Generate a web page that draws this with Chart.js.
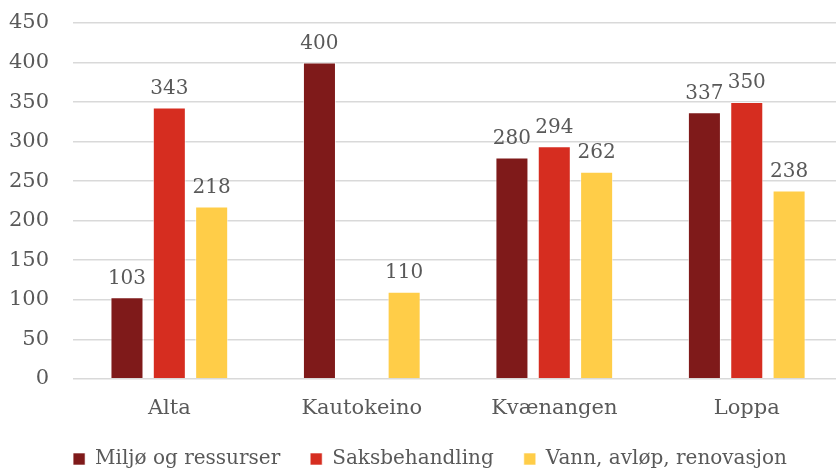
<!DOCTYPE html>
<html>
<head>
<meta charset="utf-8">
<script src="https://cdn.jsdelivr.net/npm/chart.js@4.4.1/dist/chart.umd.min.js"></script>
<style>
  html, body { margin: 0; padding: 0; background: #fff; overflow: hidden; }
  /* the plot runs a few px past the right edge in the original */
  #wrap { width: 843px; height: 470px; position: relative; }
</style>
</head>
<body>
<div id="wrap"><canvas id="chart"></canvas></div>
<script>
const categories = ["Alta", "Kautokeino", "Kvænangen", "Loppa"];
const seriesNames = ["Miljø og ressurser", "Saksbehandling", "Vann, avløp, renovasjon"];
const miljo = [103, 400, 280, 337];
const saksbehandling = [343, null, 294, 350];
const vann = [218, 110, 262, 238];
const seriesColors = ["#7f1a1a", "#d62d20", "#ffcd48"];

const FONT = "'DejaVu Serif', Georgia, serif";
const TEXT = "#595959";

Chart.defaults.font.family = FONT;
Chart.defaults.color = TEXT;

// draws value above each bar
const barLabels = {
    id: "barLabels",
    afterDatasetsDraw(chart) {
        const ctx = chart.ctx;
        ctx.save();
        ctx.font = "20px " + FONT;
        ctx.fillStyle = TEXT;
        ctx.textAlign = "center";
        ctx.textBaseline = "bottom";
        chart.data.datasets.forEach((ds, i) => {
            chart.getDatasetMeta(i).data.forEach((bar, j) => {
                const v = ds.data[j];
                if (v === null || v === undefined) return;
                ctx.fillText(v, bar.x, bar.y - 9);
            });
        });
        ctx.restore();
    }
};

// put the legend row where the original has it
const legendPlace = {
    id: "legendPlace",
    afterLayout(chart) {
        const lg = chart.legend;
        const h = lg.bottom - lg.top;
        lg.top = 419;
        lg.bottom = lg.top + h;
        const dx = 430 - (lg.left + lg.right) / 2;
        lg.left += dx;
        lg.right += dx;
    }
};

new Chart(document.getElementById("chart"), {
    type: "bar",
    data: {
        labels: categories,
        datasets: [miljo, saksbehandling, vann].map((d, i) => ({
            label: seriesNames[i],
            data: d,
            backgroundColor: seriesColors[i],
            borderColor: "rgba(255,255,255,0.6)",
            borderWidth: 1,
            categoryPercentage: 0.66,
            barPercentage: 0.78
        }))
    },
    options: {
        responsive: true,
        maintainAspectRatio: false,
        animation: false,
        layout: { padding: { top: 23, right: 0, left: 6, bottom: -20 } },
        plugins: {
            legend: {
                position: "bottom",
                labels: {
                    font: { family: FONT, size: 20 },
                    color: TEXT,
                    boxWidth: 12,
                    boxHeight: 12,
                    padding: 30
                }
            },
            tooltip: { enabled: false }
        },
        scales: {
            x: {
                grid: { display: false },
                border: { display: false },
                ticks: { font: { family: FONT, size: 21 }, color: TEXT, padding: 9 }
            },
            y: {
                min: 0,
                max: 450,
                ticks: { stepSize: 50, font: { family: FONT, size: 21 }, color: TEXT, padding: 3 },
                grid: { color: "#d9d9d9", lineWidth: 1.5, drawTicks: true, tickLength: 21, tickColor: "rgba(0,0,0,0)" },
                border: { display: false }
            }
        }
    },
    plugins: [barLabels, legendPlace]
});
</script>
</body>
</html>
